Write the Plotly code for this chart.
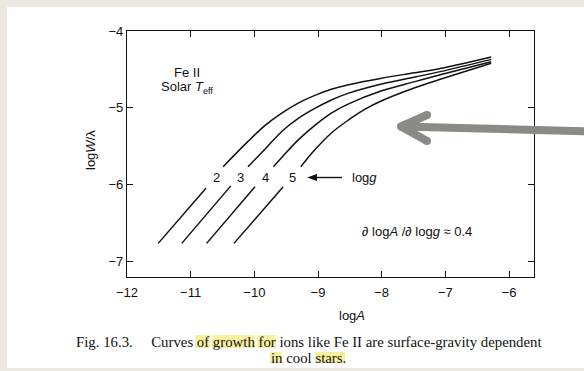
import plotly.graph_objects as go

# ---- data (log A, log W/lambda) ----
x_ticks = [-12, -11, -10, -9, -8, -7, -6]
y_ticks = [-7, -6, -5, -4]

g2_low_x = [-11.51, -10.76]
g2_low_y = [-6.77, -6.05]
g2_up_x = [-10.49, -10.10, -9.83, -9.57, -9.31, -9.05, -8.79, -8.52, -8.00, -7.48, -7.08, -6.28]
g2_up_y = [-5.77, -5.44, -5.23, -5.07, -4.94, -4.84, -4.76, -4.70, -4.615, -4.545, -4.49, -4.34]

g3_low_x = [-11.14, -10.37]
g3_low_y = [-6.77, -6.02]
g3_up_x = [-10.10, -9.83, -9.57, -9.31, -9.05, -8.79, -8.52, -8.00, -7.48, -7.08, -6.28]
g3_up_y = [-5.77, -5.54, -5.31, -5.14, -5.01, -4.90, -4.81, -4.69, -4.60, -4.53, -4.37]

g4_low_x = [-10.75, -9.99]
g4_low_y = [-6.77, -6.03]
g4_up_x = [-9.70, -9.57, -9.31, -9.05, -8.79, -8.52, -8.00, -7.48, -7.08, -6.28]
g4_up_y = [-5.77, -5.65, -5.42, -5.23, -5.07, -4.95, -4.78, -4.66, -4.57, -4.40]

g5_low_x = [-10.32, -9.55]
g5_low_y = [-6.77, -6.035]
g5_up_x = [-9.27, -9.05, -8.79, -8.52, -8.26, -8.00, -7.48, -7.08, -6.28]
g5_up_y = [-5.77, -5.55, -5.33, -5.16, -5.02, -4.91, -4.74, -4.63, -4.42]

curve_labels = ["2", "3", "4", "5"]

# ---- layout geometry (pixels) ----
W, H = 584, 371
L, R, T, B = 127, 534, 31, 277


def px(xp):
    return (xp - L) / (R - L)


def py(yp):
    return (B - yp) / (B - T)


FONT = "Liberation Sans, Arial, sans-serif"
SERIF = "Liberation Serif, Times New Roman, serif"
INK = "#111111"
FS = 13

fig = go.Figure()
segments = [
    (g2_low_x, g2_low_y, "linear"), (g2_up_x, g2_up_y, "spline"),
    (g3_low_x, g3_low_y, "linear"), (g3_up_x, g3_up_y, "spline"),
    (g4_low_x, g4_low_y, "linear"), (g4_up_x, g4_up_y, "spline"),
    (g5_low_x, g5_low_y, "linear"), (g5_up_x, g5_up_y, "spline"),
]
for xs, ys, shp in segments:
    fig.add_trace(go.Scatter(x=xs, y=ys, mode="lines",
                             line=dict(color=INK, width=1.5, shape=shp, smoothing=1.0),
                             showlegend=False, hoverinfo="skip"))

shapes = []
# page: beige surround, white sheet
shapes.append(dict(type="rect", xref="paper", yref="paper", layer="below",
                   x0=px(7), x1=px(590), y0=py(368), y1=py(7),
                   fillcolor="white", line=dict(width=0)))

# caption highlights
hl = "#f6f2a2"
for (a, b, t, bt) in [(195, 210, 335, 348), (212, 255, 335, 348), (257, 276, 335, 348),
                      (270, 282, 352, 363), (315, 345, 352, 363)]:
    shapes.append(dict(type="rect", xref="paper", yref="paper", layer="below",
                       x0=px(a), x1=px(b), y0=py(bt), y1=py(t),
                       fillcolor=hl, line=dict(width=0)))

# grey pointer arrow
grey = "#8a8b85"
for (x0, y0, x1, y1) in [(402, 126.5, 590, 131.5), (401, 126.5, 427, 115), (401, 126.5, 427, 141)]:
    shapes.append(dict(type="line", xref="paper", yref="paper", layer="above",
                       x0=px(x0), y0=py(y0), x1=px(x1), y1=py(y1),
                       line=dict(color=grey, width=8)))
for (cx, cy) in [(427, 115), (427, 141), (401, 126.5)]:
    r = 4
    shapes.append(dict(type="circle", xref="paper", yref="paper", layer="above",
                       x0=px(cx - r), x1=px(cx + r), y0=py(cy + r), y1=py(cy - r),
                       fillcolor=grey, line=dict(width=0)))

# small black arrow  5 <-- log g
shapes.append(dict(type="line", xref="paper", yref="paper", layer="above",
                   x0=px(314), y0=py(177.5), x1=px(342), y1=py(177.5),
                   line=dict(color=INK, width=1.4)))
shapes.append(dict(type="path", xref="paper", yref="paper", layer="above",
                   path="M {} {} L {} {} L {} {} Z".format(px(307), py(177.5), px(317), py(174),
                                                         px(317), py(181)),
                   fillcolor=INK, line=dict(width=0)))

ann = []


def text(x, y, s, size=FS, font=FONT, **kw):
    ann.append(dict(xref="paper", yref="paper", x=px(x), y=py(y), text=s, showarrow=False,
                    font=dict(family=font, size=size, color=INK),
                    xanchor="center", yanchor="middle", **kw))


text(187, 72, "Fe II")
text(187, 87.5, "Solar <i>T</i><sub>eff</sub>")
for lab, xx in zip(curve_labels, [216, 240.5, 265, 292.5]):
    text(xx, 177.5, lab)
text(364, 177.5, "log<i>g</i>")
text(417, 231, "∂ log<i>A</i> /∂ log<i>g</i> ≈ 0.4")
text(352, 315, "log<i>A</i>")
text(90, 150, "log<i>W</i>/λ", textangle=-90)
text(308.5, 341.5, "Fig. 16.3.\u00a0\u00a0\u00a0\u00a0 Curves of growth for ions like Fe II are surface-gravity dependent",
     size=14.8, font=SERIF)
text(308, 357.5, "in cool stars.", size=14.8, font=SERIF)

axis_common = dict(showgrid=False, zeroline=False, showline=True, linecolor=INK, linewidth=1.3,
                   mirror="ticks", ticks="inside", ticklen=6, tickwidth=1.1, tickcolor=INK,
                   tickfont=dict(family=FONT, size=FS, color=INK))

fig.update_layout(
    width=W, height=H,
    margin=dict(l=L, r=W - R, t=T, b=H - B),
    paper_bgcolor="#ebe9e1", plot_bgcolor="white",
    xaxis=dict(range=[-12, -12 + (R - L) / 63.67], tickvals=x_ticks, ticklabelstandoff=3, **axis_common),
    yaxis=dict(range=[-4 - (B - T) / 76.67, -4], tickvals=y_ticks, **axis_common),
    shapes=shapes, annotations=ann,
)

fig.write_html("out.html")
